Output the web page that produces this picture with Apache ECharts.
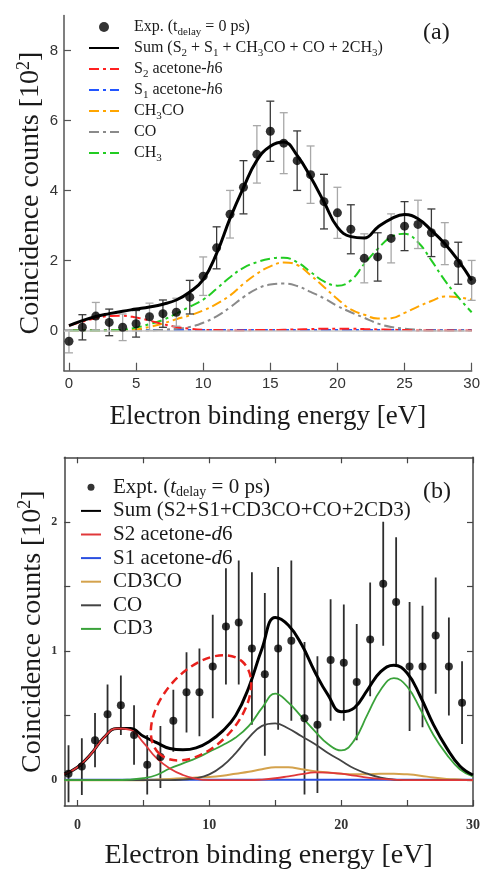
<!DOCTYPE html>
<html><head><meta charset="utf-8">
<script src="https://cdn.jsdelivr.net/npm/echarts@6/dist/echarts.min.js"></script>
<style>html,body{margin:0;padding:0;background:#fff}#c{width:483px;height:871px}</style>
</head><body><div id="c"></div>
<script>
const SERIF = '"Liberation Serif","Times New Roman",serif';
const SANS = '"Liberation Sans",Arial,sans-serif';

// ---------- Panel (a) ----------
const aEnergy = [0,1,2,3,4,5,6,7,8,9,10,11,12,13,14,15,16,17,18,19,20,21,22,23,24,25,26,27,28,29,30];
const aExp   = [-0.31,0.09,0.41,0.23,0.09,0.19,0.39,0.48,0.52,0.95,1.55,2.36,3.32,4.09,5.03,5.69,5.35,4.85,4.45,3.68,3.36,2.89,2.06,2.10,2.63,2.98,3.03,2.79,2.48,1.92,1.43];
const aErr   = [0.33,0.36,0.39,0.38,0.38,0.38,0.39,0.39,0.40,0.48,0.55,0.60,0.68,0.76,0.82,0.86,0.87,0.85,0.82,0.78,0.73,0.70,0.70,0.69,0.70,0.70,0.69,0.68,0.60,0.60,0.57];
const aSum   = [0.14,0.28,0.40,0.48,0.55,0.61,0.67,0.75,0.87,1.10,1.45,2.20,3.20,4.08,4.86,5.26,5.38,5.00,4.38,3.67,2.95,2.68,2.64,2.95,3.19,3.31,3.19,2.86,2.48,2.00,1.43];
const aS2    = [0.14,0.25,0.35,0.41,0.42,0.37,0.28,0.18,0.10,0.05,0.02,0.01,0,0,0.01,0.01,0.02,0.03,0.04,0.05,0.05,0.05,0.04,0.03,0.02,0.01,0,0,0,0,0];
const aS1    = [0.01,0.01,0.01,0.01,0.01,0.01,0.01,0.01,0.01,0.01,0.01,0.01,0.01,0.01,0.01,0.01,0.01,0.01,0.01,0.01,0.01,0.01,0.01,0.01,0.01,0.01,0.01,0.01,0.01,0.01,0.01];
const aCH3CO = [0,0,0,0,0.01,0.03,0.10,0.20,0.32,0.43,0.57,0.76,1.00,1.33,1.62,1.83,1.94,1.87,1.58,1.24,0.90,0.60,0.45,0.34,0.35,0.50,0.68,0.84,0.97,0.95,0.88];
const aCO    = [0,0,0,0,0,0,0,0.02,0.05,0.10,0.22,0.40,0.66,0.95,1.19,1.31,1.34,1.27,1.10,0.92,0.70,0.52,0.36,0.20,0.10,0.05,0.02,0,0,0,0];
const aCH3   = [0,0,0,0,0.02,0.08,0.18,0.30,0.48,0.68,0.88,1.19,1.52,1.79,1.95,2.05,2.08,1.95,1.67,1.40,1.28,1.43,1.90,2.33,2.67,2.76,2.52,2.00,1.43,0.95,0.52];
const aXTicks = [0,5,10,15,20,25,30];
const aYTicks = [0,2,4,6,8];

// ---------- Panel (b) ----------
const bExpX  = [-0.68,0.33,1.33,2.28,3.29,4.29,5.29,6.29,7.27,8.27,9.25,10.26,11.26,12.23,13.23,14.21,15.22,16.22,17.22,18.2,19.2,20.2,21.18,22.2,23.19,24.17,25.19,26.17,27.17,28.17,29.17];
const bExp   = [0.05,0.105,0.31,0.51,0.58,0.35,0.12,0.18,0.46,0.68,0.68,0.88,1.19,1.22,1.02,0.82,1.02,1.08,0.48,0.43,0.93,0.91,0.76,1.09,1.52,1.38,0.88,0.88,1.12,0.88,0.60];
const bErr   = [0.22,0.22,0.21,0.23,0.23,0.23,0.23,0.24,0.24,0.31,0.34,0.40,0.45,0.48,0.59,0.63,0.63,0.62,0.59,0.53,0.47,0.45,0.45,0.44,0.48,0.50,0.50,0.47,0.45,0.38,0.32];
const bEnergy = [-1,0,1,2,3,4,5,6,7,8,9,10,11,12,13,14,15,16,17,18,19,20,21,22,23,24,25,26,27,28,29,30];
const bSum   = [0.046,0.10,0.20,0.33,0.40,0.40,0.34,0.29,0.245,0.235,0.25,0.30,0.38,0.50,0.72,1.02,1.26,1.20,1.05,0.84,0.66,0.53,0.56,0.70,0.84,0.89,0.83,0.65,0.43,0.25,0.11,0.04];
const bS2    = [0.046,0.10,0.20,0.33,0.40,0.39,0.29,0.17,0.09,0.04,0.01,0,0,0,0,0.005,0.015,0.03,0.046,0.06,0.058,0.05,0.035,0.02,0.01,0.005,0,0,0,0,0,0];
const bS1    = [0.003,0.003,0.003,0.003,0.003,0.003,0.003,0.003,0.003,0.003,0.003,0.003,0.003,0.003,0.003,0.003,0.003,0.003,0.003,0.003,0.003,0.003,0.003,0.003,0.003,0.003,0.003,0.003,0.003,0.003,0.003,0.003];
const bCD3CO = [0,0,0,0,0,0,0,0.005,0.01,0.015,0.02,0.025,0.035,0.05,0.065,0.085,0.1,0.1,0.085,0.07,0.06,0.05,0.045,0.045,0.05,0.05,0.045,0.035,0.02,0.01,0.005,0];
const bCO    = [0,0,0,0,0,0,0,0,0,0.005,0.015,0.045,0.11,0.21,0.33,0.42,0.44,0.40,0.34,0.28,0.21,0.15,0.09,0.05,0.02,0.005,0,0,0,0,0,0];
const bCD3   = [0,0,0,0,0,0.005,0.015,0.04,0.09,0.13,0.17,0.22,0.27,0.33,0.42,0.56,0.67,0.60,0.49,0.38,0.28,0.23,0.31,0.51,0.70,0.79,0.725,0.55,0.35,0.20,0.085,0.03];
const bXTicks = [0,5,10,15,20,25,30];
const bXLabels = [0,10,20,30];
const bYTicks = [0,0.5,1,1.5,2];
const bYLabels = [0,1,2];

function pair(xs, ys) { return xs.map((x, i) => [x, ys[i]]); }
function errData(xs, ys, es) { return xs.map((x, i) => [x, ys[i] - es[i], ys[i] + es[i], i]); }

function curve(name, xs, ys, gi, color, width, dash, z) {
  return {
    name, type: 'line', xAxisIndex: gi, yAxisIndex: gi, data: pair(xs, ys),
    smooth: 0.45, symbol: 'none', showSymbol: false, silent: true, z: z || 3,
    lineStyle: { color, width, type: dash || 'solid' }, itemStyle: { color }
  };
}

function errBars(capHalf, colors, width) {
  return function (params, api) {
    const x = api.value(0), lo = api.value(1), hi = api.value(2), k = api.value(3);
    const p = api.coord([x, lo]), q = api.coord([x, hi]);
    const style = { stroke: colors[k % colors.length], lineWidth: width };
    const ch = [{ type: 'line', shape: { x1: p[0], y1: p[1], x2: q[0], y2: q[1] }, style }];
    if (capHalf > 0) {
      ch.push({ type: 'line', shape: { x1: p[0] - capHalf, y1: p[1], x2: p[0] + capHalf, y2: p[1] }, style });
      ch.push({ type: 'line', shape: { x1: q[0] - capHalf, y1: q[1], x2: q[0] + capHalf, y2: q[1] }, style });
    }
    return { type: 'group', children: ch };
  };
}

const DD = [10, 4, 3, 4]; // dash-dot pattern

const legendText = {
  'Exp (a)': '{n|Exp. (t}{s|delay}{n| = 0 ps)}',
  'Sum (a)': '{n|Sum (S}{s|2}{n| + S}{s|1}{n| + CH}{s|3}{n|CO + CO + 2CH}{s|3}{n|)}',
  'S2 (a)': '{n|S}{s|2}{n| acetone-}{i|h}{n|6}',
  'S1 (a)': '{n|S}{s|1}{n| acetone-}{i|h}{n|6}',
  'CH3CO (a)': '{n|CH}{s|3}{n|CO}',
  'CO (a)': '{n|CO}',
  'CH3 (a)': '{n|CH}{s|3}',
  'Expt (b)': '{n|Expt. (}{i|t}{s|delay}{n| = 0 ps)}',
  'Sum (b)': '{n|Sum (S2+S1+CD3CO+CO+2CD3)}',
  'S2 (b)': '{n|S2 acetone-}{i|d}{n|6}',
  'S1 (b)': '{n|S1 acetone-}{i|d}{n|6}',
  'CD3CO (b)': '{n|CD3CO}',
  'CO (b)': '{n|CO}',
  'CD3 (b)': '{n|CD3}'
};

// legend items for line series: hide the default marker, keep only the line
const hideMark = { opacity: 0, color: 'rgba(0,0,0,0)', borderWidth: 0 };
function legendItems(names, dotName) {
  return names.map(n => n === dotName ? { name: n } : { name: n, itemStyle: hideMark });
}

const chart = echarts.init(document.getElementById('c'), null, { renderer: 'canvas' });

const yName = '{m|Coincidence counts [10}{p|2}{m|]}';
const yNameStyle = {
  fontFamily: SERIF, color: '#1a1a1a',
  rich: {
    m: { fontFamily: SERIF, fontSize: 28, color: '#1a1a1a', lineHeight: 32 },
    p: { fontFamily: SERIF, fontSize: 18, color: '#1a1a1a', lineHeight: 16, verticalAlign: 'top' }
  }
};

const option = {
  animation: false,
  backgroundColor: '#ffffff',
  grid: [
    { left: 64, top: 15.4, width: 411, height: 355.3 },
    { left: 64.3, top: 457.3, width: 410.7, height: 349.4 }
  ],
  xAxis: [
    {
      gridIndex: 0, type: 'value', min: -0.37, max: 30,
      axisLine: { onZero: false, lineStyle: { color: '#555', width: 1.5 } },
      axisTick: { inside: true, length: 8, customValues: aXTicks, lineStyle: { color: '#555', width: 1.2 } },
      axisLabel: { customValues: aXTicks, fontFamily: SANS, fontSize: 15, color: '#333', margin: 6 },
      splitLine: { show: false },
      name: 'Electron binding energy [eV]', nameLocation: 'middle', nameGap: 33,
      nameTextStyle: { fontFamily: SERIF, fontSize: 27, color: '#1a1a1a' }
    },
    {
      gridIndex: 1, type: 'value', min: -1, max: 30, position: 'bottom',
      axisLine: { onZero: false, lineStyle: { color: '#444', width: 1.5 } },
      axisTick: { inside: true, length: 6, customValues: bXTicks, lineStyle: { color: '#444', width: 1.2 } },
      axisLabel: { customValues: bXLabels, fontFamily: SERIF, fontWeight: 'bold', fontSize: 14, color: '#333', margin: 12 },
      splitLine: { show: false },
      name: 'Electron binding energy [eV]', nameLocation: 'middle', nameGap: 36,
      nameTextStyle: { fontFamily: SERIF, fontSize: 28, color: '#1a1a1a' }
    },
    {
      gridIndex: 1, type: 'value', min: -1, max: 30, position: 'top',
      axisLine: { onZero: false, lineStyle: { color: '#444', width: 1.5 } },
      axisTick: { inside: true, length: 6, customValues: bXTicks, lineStyle: { color: '#444', width: 1.2 } },
      axisLabel: { show: false }, splitLine: { show: false }
    }
  ],
  yAxis: [
    {
      gridIndex: 0, type: 'value', min: -1.15, max: 9,
      axisLine: { show: true, onZero: false, lineStyle: { color: '#555', width: 1.5 } },
      axisTick: { show: true, inside: true, length: 7, customValues: aYTicks, lineStyle: { color: '#555', width: 1.2 } },
      axisLabel: { customValues: aYTicks, fontFamily: SANS, fontSize: 15, color: '#333', margin: 6 },
      splitLine: { show: false },
      name: yName, nameLocation: 'middle', nameGap: 17, nameMoveOverlap: false, nameTextStyle: yNameStyle
    },
    {
      gridIndex: 1, type: 'value', min: -0.2, max: 2.5,
      axisLine: { show: true, onZero: false, lineStyle: { color: '#444', width: 1.5 } },
      axisTick: { show: true, inside: true, length: 6, customValues: bYTicks, lineStyle: { color: '#444', width: 1.2 } },
      axisLabel: { customValues: bYLabels, fontFamily: SERIF, fontWeight: 'bold', fontSize: 12, color: '#333', margin: 7 },
      splitLine: { show: false },
      name: yName, nameLocation: 'middle', nameGap: 16, nameMoveOverlap: false, nameTextStyle: yNameStyle
    },
    {
      gridIndex: 1, type: 'value', min: -0.2, max: 2.5, position: 'right',
      axisLine: { show: true, onZero: false, lineStyle: { color: '#444', width: 1.5 } },
      axisTick: { show: true, inside: true, length: 6, customValues: bYTicks, lineStyle: { color: '#444', width: 1.2 } },
      axisLabel: { show: false }, splitLine: { show: false }
    }
  ],
  legend: [
    {
      orient: 'vertical', left: 88, top: 16.5, padding: 0, itemWidth: 30, itemHeight: 10, itemGap: 0,
      data: legendItems(['Exp (a)', 'Sum (a)', 'S2 (a)', 'S1 (a)', 'CH3CO (a)', 'CO (a)', 'CH3 (a)'], 'Exp (a)'),
      formatter: n => legendText[n], selectedMode: false,
      textStyle: {
        fontFamily: SERIF, fontSize: 16, lineHeight: 21, color: '#1a1a1a', padding: [0, 0, 0, 10],
        rich: {
          n: { fontFamily: SERIF, fontSize: 16, lineHeight: 21, color: '#1a1a1a' },
          i: { fontFamily: SERIF, fontSize: 16, lineHeight: 21, fontStyle: 'italic', color: '#1a1a1a' },
          s: { fontFamily: SERIF, fontSize: 11, lineHeight: 10, verticalAlign: 'bottom', color: '#1a1a1a' }
        }
      }
    },
    {
      orient: 'vertical', left: 80, top: 475.5, padding: 0, itemWidth: 20, itemHeight: 7, itemGap: 0,
      data: legendItems(['Expt (b)', 'Sum (b)', 'S2 (b)', 'S1 (b)', 'CD3CO (b)', 'CO (b)', 'CD3 (b)'], 'Expt (b)'),
      formatter: n => legendText[n], selectedMode: false,
      textStyle: {
        fontFamily: SERIF, fontSize: 21, lineHeight: 23.6, color: '#1a1a1a', padding: [0, 0, 0, 7],
        rich: {
          n: { fontFamily: SERIF, fontSize: 21, lineHeight: 23.6, color: '#1a1a1a' },
          i: { fontFamily: SERIF, fontSize: 21, lineHeight: 23.6, fontStyle: 'italic', color: '#1a1a1a' },
          s: { fontFamily: SERIF, fontSize: 14, lineHeight: 12, verticalAlign: 'bottom', color: '#1a1a1a' }
        }
      }
    }
  ],
  series: [
    // zero line (a)
    {
      name: 'zero', type: 'line', xAxisIndex: 0, yAxisIndex: 0, data: [], z: 1, silent: true,
      markLine: {
        silent: true, symbol: 'none', label: { show: false },
        lineStyle: { color: '#c4c4c4', width: 1.5, type: 'solid' }, data: [{ yAxis: 0 }]
      }
    },
    curve('S1 (a)', aEnergy, aS1, 0, '#2255ff', 2, DD),
    curve('CO (a)', aEnergy, aCO, 0, '#8a8a8a', 2, DD),
    curve('CH3CO (a)', aEnergy, aCH3CO, 0, '#ffa500', 2, DD),
    curve('CH3 (a)', aEnergy, aCH3, 0, '#22cc22', 2, DD),
    curve('S2 (a)', aEnergy, aS2, 0, '#ff2020', 2, DD),
    {
      name: 'err (a)', type: 'custom', xAxisIndex: 0, yAxisIndex: 0, z: 4, silent: true,
      renderItem: errBars(4, ['#a8a8a8', '#3a3a3a'], 1.3),
      encode: { x: 0, y: [1, 2] }, data: errData(aEnergy, aExp, aErr)
    },
    curve('Sum (a)', aEnergy, aSum, 0, '#000000', 3, 'solid', 5),
    {
      name: 'Exp (a)', type: 'scatter', xAxisIndex: 0, yAxisIndex: 0, z: 6, silent: true,
      symbol: 'circle', symbolSize: 9, itemStyle: { color: '#000' }, data: pair(aEnergy, aExp)
    },

    // panel (b)
    {
      name: 'err (b)', type: 'custom', xAxisIndex: 1, yAxisIndex: 1, z: 2, silent: true, clip: true,
      renderItem: errBars(0, ['#2e2e2e'], 1.8),
      encode: { x: 0, y: [1, 2] }, data: errData(bExpX, bExp, bErr)
    },
    curve('S1 (b)', bEnergy, bS1, 1, '#2a4fe0', 2),
    curve('CD3CO (b)', bEnergy, bCD3CO, 1, '#d4a24c', 2),
    curve('CO (b)', bEnergy, bCO, 1, '#444444', 1.8),
    curve('CD3 (b)', bEnergy, bCD3, 1, '#3aa23a', 1.8),
    curve('Sum (b)', bEnergy, bSum, 1, '#000000', 3, 'solid', 4),
    curve('S2 (b)', bEnergy, bS2, 1, '#e0383a', 1.8, 'solid', 5),
    {
      name: 'Expt (b)', type: 'scatter', xAxisIndex: 1, yAxisIndex: 1, z: 6, silent: true,
      symbol: 'circle', symbolSize: 8, itemStyle: { color: '#000' }, data: pair(bExpX, bExp)
    }
  ]
};

chart.setOption(option);

const c = chart.convertToPixel({ xAxisIndex: 1, yAxisIndex: 1 }, [9.37, 0.56]);
chart.setOption({
  graphic: [
    { type: 'text', left: 423, top: 21, silent: true,
      style: { text: '(a)', font: '24px "Liberation Serif"', fill: '#1a1a1a' } },
    { type: 'text', left: 423, top: 480, silent: true,
      style: { text: '(b)', font: '24px "Liberation Serif"', fill: '#1a1a1a' } },
    { type: 'ellipse', silent: true, x: c[0], y: c[1], rotation: 48 * Math.PI / 180, z: 10,
      shape: { cx: 0, cy: 0, rx: 62, ry: 38 },
      style: { fill: 'none', stroke: '#e8201c', lineWidth: 2.5, lineDash: [8, 5] } }
  ]
});
</script></body></html>
